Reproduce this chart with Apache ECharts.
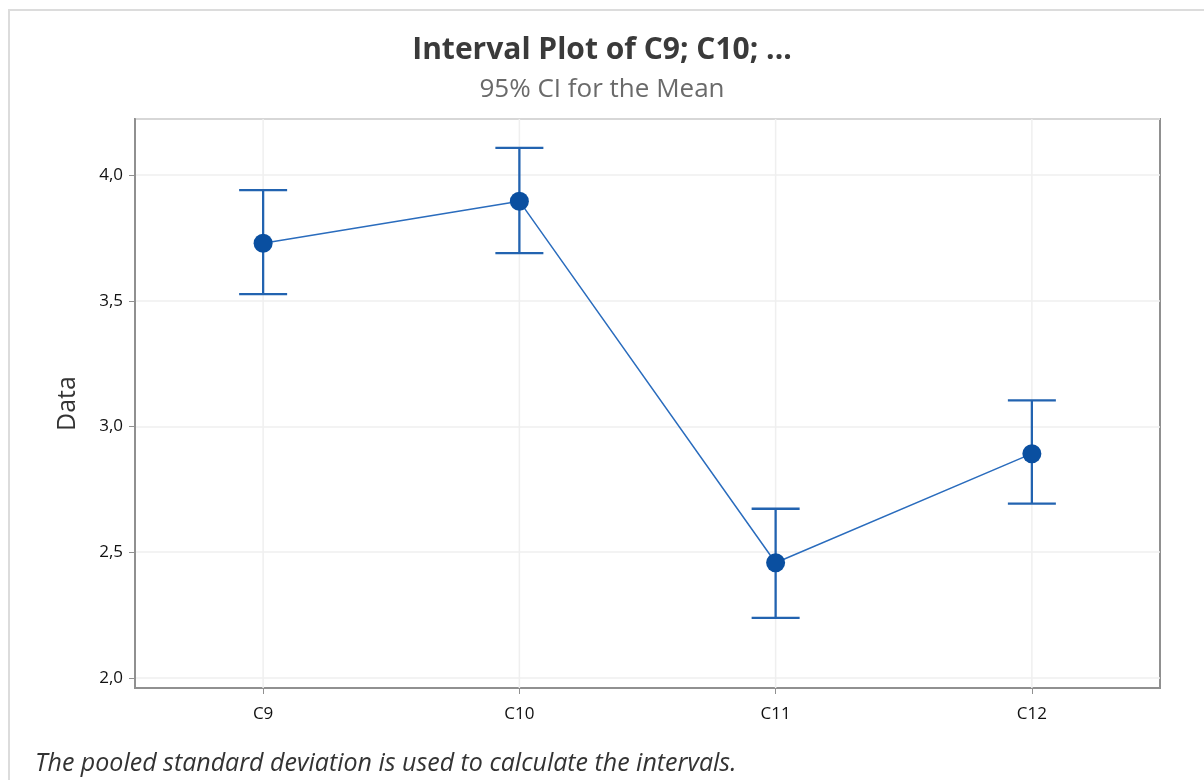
<!DOCTYPE html>
<html>
<head>
<meta charset="utf-8">
<script src="https://cdn.jsdelivr.net/npm/echarts@6/dist/echarts.min.js"></script>
<style>
  html, body { margin: 0; padding: 0; background: #fff; }
  #chart { width: 1204px; height: 780px; }
</style>
</head>
<body>
<div id="chart"></div>
<script>
// Columns and their 95% confidence intervals for the mean
const categories = ['C9', 'C10', 'C11', 'C12'];
const means = [3.729, 3.896, 2.458, 2.892];
const lowerCI = [3.526, 3.689, 2.239, 2.693];
const upperCI = [3.940, 4.108, 2.673, 3.104];

const titleText = 'Interval Plot of C9; C10; ...';
const subtitleText = '95% CI for the Mean';
const yAxisName = 'Data';
const footnote = 'The pooled standard deviation is used to calculate the intervals.';

const FONT = '"Open Sans", "Noto Sans", sans-serif';
const BAR_COLOR = '#2263b0';
const DOT_COLOR = '#0a4fa0';
const GRID_LINE = '#efefef';

const chart = echarts.init(document.getElementById('chart'), null, { renderer: 'canvas' });

const intervalData = categories.map((c, i) => [i, lowerCI[i], upperCI[i]]);

chart.setOption({
  backgroundColor: '#ffffff',
  animation: false,
  title: [
    {
      text: titleText,
      left: 'center',
      top: 30,
      textStyle: { fontFamily: FONT, fontSize: 30, fontWeight: 'bold', color: '#3a3a3a' }
    },
    {
      text: subtitleText,
      left: 'center',
      top: 72,
      textStyle: { fontFamily: FONT, fontSize: 26, fontWeight: 'normal', color: '#6a6a6a' }
    }
  ],
  graphic: [
    {
      type: 'rect',
      silent: true,
      z: -10,
      shape: { x: 9, y: 10, width: 1400, height: 1000 },
      style: { fill: 'none', stroke: '#dcdcdc', lineWidth: 2 }
    },
    {
      type: 'text',
      left: 35,
      top: 751,
      style: {
        text: footnote,
        fontFamily: FONT,
        fontSize: 25,
        fontStyle: 'italic',
        fill: '#333333'
      }
    }
  ],
  grid: {
    left: 135,
    top: 119,
    width: 1025,
    height: 569,
    show: true,
    borderColor: '#909090',
    borderWidth: 2,
    backgroundColor: '#ffffff'
  },
  xAxis: {
    type: 'category',
    data: categories,
    boundaryGap: true,
    axisLine: { show: true, lineStyle: { color: '#909090', width: 2 } },
    axisTick: { show: true, alignWithLabel: true, length: 6, lineStyle: { color: '#909090', width: 1 } },
    axisLabel: { fontFamily: FONT, fontSize: 17, fontWeight: 500, color: '#111', margin: 18 },
    splitLine: { show: false }
  },
  yAxis: {
    type: 'value',
    min: 1.9602,
    max: 4.2227,
    splitNumber: 5,
    name: yAxisName,
    nameLocation: 'middle',
    nameGap: 55,
    nameTextStyle: { fontFamily: FONT, fontSize: 25, color: '#333' },
    axisLine: { show: true, lineStyle: { color: '#909090', width: 2 } },
    axisTick: { show: true, length: 6, lineStyle: { color: '#909090', width: 1 } },
    axisLabel: {
      fontFamily: FONT,
      fontSize: 17,
      fontWeight: 500,
      color: '#111',
      margin: 12,
      showMinLabel: false,
      showMaxLabel: false,
      formatter: v => v.toFixed(1).replace('.', ',')
    },
    splitLine: { show: true, lineStyle: { color: GRID_LINE, width: 1.5 } }
  },
  series: [
    {
      // vertical reference line through each column, full plot height
      type: 'custom',
      name: 'columnLines',
      silent: true,
      data: categories.map((c, i) => [i]),
      z: 1,
      renderItem: function (params, api) {
        const cs = params.coordSys;
        const x = api.coord([api.value(0), 0])[0];
        return {
          type: 'line',
          shape: { x1: x, y1: cs.y, x2: x, y2: cs.y + cs.height },
          style: { stroke: GRID_LINE, lineWidth: 1.5 }
        };
      }
    },
    {
      type: 'custom',
      name: 'CI',
      data: intervalData,
      z: 3,
      renderItem: function (params, api) {
        const x = api.value(0);
        const lo = api.coord([x, api.value(1)]);
        const hi = api.coord([x, api.value(2)]);
        const half = 24;
        const style = { stroke: BAR_COLOR, lineWidth: 2.3 };
        return {
          type: 'group',
          children: [
            { type: 'line', shape: { x1: lo[0], y1: lo[1], x2: hi[0], y2: hi[1] }, style },
            { type: 'line', shape: { x1: hi[0] - half, y1: hi[1], x2: hi[0] + half, y2: hi[1] }, style },
            { type: 'line', shape: { x1: lo[0] - half, y1: lo[1], x2: lo[0] + half, y2: lo[1] }, style }
          ]
        };
      }
    },
    {
      type: 'line',
      name: 'Mean',
      data: means,
      z: 4,
      symbol: 'circle',
      symbolSize: 19,
      showSymbol: true,
      lineStyle: { color: '#2a6cbd', width: 1.5 },
      itemStyle: { color: DOT_COLOR, borderWidth: 0 }
    }
  ]
});
</script>
</body>
</html>
